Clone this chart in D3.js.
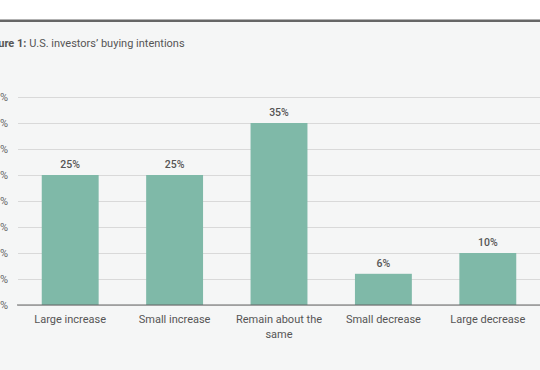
<!DOCTYPE html>
<html><head><meta charset="utf-8">
<script src="https://cdn.jsdelivr.net/npm/d3@7"></script>
<style>html,body{margin:0;padding:0;background:#fff;overflow:hidden}svg{display:block;font-family:Roboto,"Noto Sans",sans-serif}</style>
</head><body><svg id="c" width="540" height="370"></svg>
<script>
const categories = ["Large increase","Small increase","Remain about the same","Small decrease","Large decrease"];
const values = [25, 25, 35, 6, 10];
const yTicks = [0,5,10,15,20,25,30,35,40];
const title = "Figure 1:";
const subtitle = " U.S. investors' buying intentions";

const svg = d3.select("#c");
svg.append("rect").attr("x",0).attr("y",21).attr("width",540).attr("height",349).attr("fill","#f5f6f6");
svg.append("rect").attr("x",0).attr("y",19.5).attr("width",540).attr("height",2.5).attr("fill","#666");

const t = svg.append("text").attr("x",-17).attr("y",47).attr("font-size",11).attr("fill","#555");
t.append("tspan").attr("font-weight","bold").text(title);
t.append("tspan").text(subtitle.replace("'", "\u2019"));

const y = d3.scaleLinear().domain([0,40]).range([305,97]);
const x = d3.scaleBand().domain(categories).range([18,540]).paddingInner(0.455).paddingOuter(0.2275);

const yAxis = svg.append("g").attr("transform","translate(18,0)")
  .call(d3.axisLeft(y).tickValues(yTicks).tickFormat(d=>d+"%").tickSize(-522).tickPadding(10));
yAxis.select(".domain").remove();
yAxis.selectAll(".tick line").attr("stroke","#d9d9d9").attr("stroke-width",1);
yAxis.selectAll(".tick text").attr("fill","#666").attr("font-size",11).attr("font-family","Roboto,sans-serif");

svg.selectAll(".bar").data(values).join("rect")
  .attr("x",(d,i)=>x(categories[i])).attr("y",d=>y(d))
  .attr("width",x.bandwidth()).attr("height",d=>y(0)-y(d)).attr("fill","#7fb9a8");

svg.append("line").attr("x1",17).attr("x2",540).attr("y1",y(0)).attr("y2",y(0)).attr("stroke","#666").attr("stroke-width",1.2);

svg.selectAll(".vl").data(values).join("text")
  .attr("x",(d,i)=>x(categories[i])+x.bandwidth()/2).attr("y",d=>y(d)-7)
  .attr("text-anchor","middle").attr("font-size",10.5).attr("font-weight",500).attr("fill","#555")
  .text(d=>d+"%");

const xl = svg.append("g").attr("transform",`translate(0,${y(0)})`)
  .call(d3.axisBottom(x).tickSize(0).tickPadding(10));
xl.select(".domain").remove();
xl.selectAll(".tick text").attr("fill","#555").attr("font-size",11).attr("font-family","Roboto,sans-serif")
  .each(function(d){
    const el = d3.select(this);
    if (d === "Remain about the same") {
      el.text(null);
      el.append("tspan").attr("x",0).attr("dy","0.71em").text("Remain about the");
      el.append("tspan").attr("x",0).attr("dy","1.35em").text("same");
      el.attr("dy",null);
    }
  });
</script></body></html>
